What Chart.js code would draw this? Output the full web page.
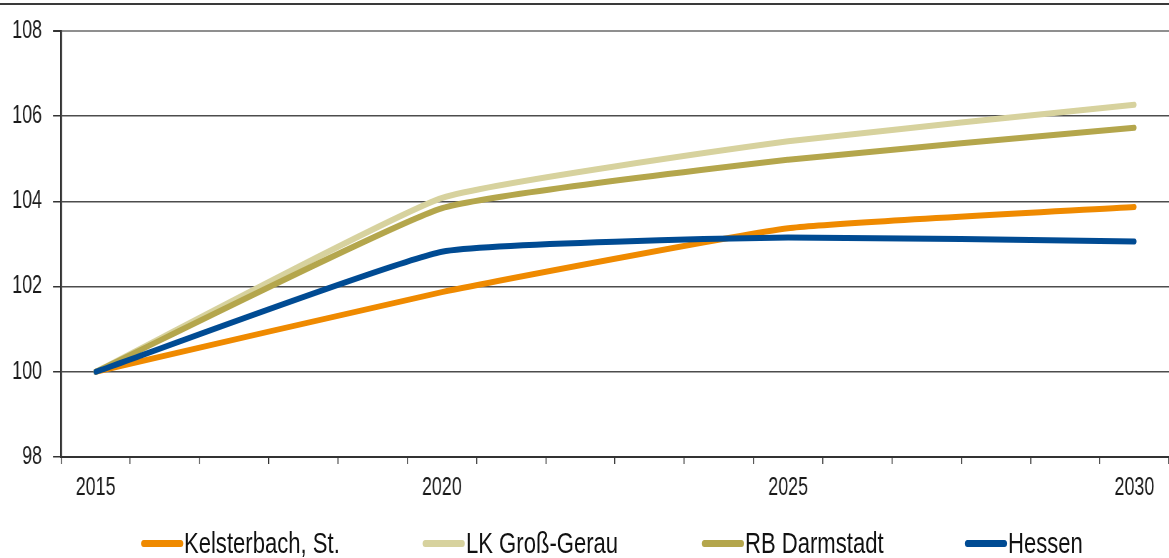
<!DOCTYPE html>
<html>
<head>
<meta charset="utf-8">
<script src="https://cdn.jsdelivr.net/npm/chart.js@4.4.1/dist/chart.umd.min.js"></script>
<style>
  html, body { margin: 0; padding: 0; background: #fff; overflow: hidden; width: 1169px; height: 558px; }
  #rule { position: absolute; left: 0; top: 3px; width: 1169px; height: 2px; background: #3a3a3a; }
  /* the chart is laid out wide and condensed horizontally, giving the narrow lettering */
  #stage { position: absolute; left: 0; top: 0; width: 1638px; height: 558px; transform: scaleX(0.715); transform-origin: 0 0; }
  #plot { position: absolute; left: 0; top: 0; width: 1638px; height: 558px; }
  #legend { position: absolute; left: 0; top: 527px; width: 1525px; height: 32px;
            transform: scaleX(0.767); transform-origin: 0 0;
            font: 28.8px 'Liberation Sans', Arial, sans-serif; color: #111; }
  .item { position: absolute; top: 0; height: 32px; display: flex; align-items: center; white-space: nowrap; }
  .swatch { width: 55px; height: 7px; border-radius: 4px; margin-right: 1px; }
</style>
</head>
<body>
<div id="rule"></div>
<div id="stage">
  <div id="plot"><canvas id="chart"></canvas></div>
</div>
<div id="legend"></div>
<script>
// Population index, 2015 = 100
const years = ['2015','2016','2017','2018','2019','2020','2021','2022','2023','2024','2025','2026','2027','2028','2029','2030'];
const labeledYears = ['2015', '2020', '2025', '2030'];
const pointYears = ['2015', '2020', '2025', '2030'];

const kelsterbach = [100, 101.87, 103.37, 103.87];
const grossGerau  = [100, 104.08, 105.41, 106.27];
const darmstadt   = [100, 103.84, 104.98, 105.73];
const hessen      = [100, 102.82, 103.15, 103.06];

const seriesNames  = ['Kelsterbach, St.', 'LK Groß-Gerau', 'RB Darmstadt', 'Hessen'];
const seriesColors = ['#EF8A00', '#D7D29E', '#B4A64C', '#004B93'];
const seriesValues = [kelsterbach, grossGerau, darmstadt, hessen];

const yTicks = { min: 98, max: 108, step: 2 };

const K = 0.715;   // horizontal condensing of the chart stage
const KL = 0.767;  // horizontal condensing of the legend

Chart.defaults.font.family = "'Liberation Sans', Arial, sans-serif";
Chart.defaults.font.size = 25;
Chart.defaults.color = '#1a1a1a';

const datasets = seriesValues.map((vals, i) => ({
  label: seriesNames[i],
  data: vals.map((v, j) => ({ x: pointYears[j], y: v })),
  borderColor: seriesColors[i],
  backgroundColor: seriesColors[i],
  borderWidth: 6,
  borderCapStyle: 'round',
  borderJoinStyle: 'round',
  pointRadius: 0,
  pointHoverRadius: 0,
  tension: 0.13,
  fill: false,
  order: seriesValues.length - 1 - i
}));

new Chart(document.getElementById('chart'), {
  type: 'line',
  data: { labels: years, datasets },
  options: {
    responsive: true,
    maintainAspectRatio: false,
    animation: false,
    devicePixelRatio: 1,
    layout: { padding: { top: 31, right: 0, bottom: 0, left: 0 } },
    plugins: { legend: { display: false }, tooltip: { enabled: false } },
    scales: {
      x: {
        type: 'category',
        offset: true,
        grid: {
          display: true, offset: true, drawOnChartArea: false, drawTicks: true,
          tickLength: 7, color: '#333', lineWidth: 1 / K
        },
        border: { display: true, color: '#333', width: 2 },
        ticks: {
          autoSkip: false, maxRotation: 0, minRotation: 0, padding: 9, color: '#1a1a1a',
          callback: function (value, index) {
            const lab = this.getLabelForValue(value);
            return labeledYears.includes(lab) ? lab : '';
          }
        },
        afterFit: (scale) => { scale.height = 558 - 457; }
      },
      y: {
        min: yTicks.min, max: yTicks.max,
        grid: {
          color: (ctx) => ctx.tick && ctx.tick.value === yTicks.max ? '#8f8f8f' : '#4d4d4d',
          lineWidth: (ctx) => ctx.tick && ctx.tick.value === yTicks.max ? 2 : 1.5,
          tickColor: '#333',
          tickLength: 8 / K,
          drawTicks: true
        },
        border: { display: true, color: '#333', width: 2 / K },
        ticks: { stepSize: yTicks.step, padding: 11 / K, color: '#1a1a1a' },
        afterFit: (scale) => { scale.width = 61 / K; }
      }
    }
  }
});

// Legend: line swatch followed by the series name
const legendLeft = [141, 423, 702, 965];
const legend = document.getElementById('legend');
seriesNames.forEach((name, i) => {
  const item = document.createElement('div');
  item.className = 'item';
  item.style.left = (legendLeft[i] / KL) + 'px';
  const sw = document.createElement('span');
  sw.className = 'swatch';
  sw.style.background = seriesColors[i];
  const tx = document.createElement('span');
  tx.textContent = name;
  item.appendChild(sw);
  item.appendChild(tx);
  legend.appendChild(item);
});
</script>
</body>
</html>
